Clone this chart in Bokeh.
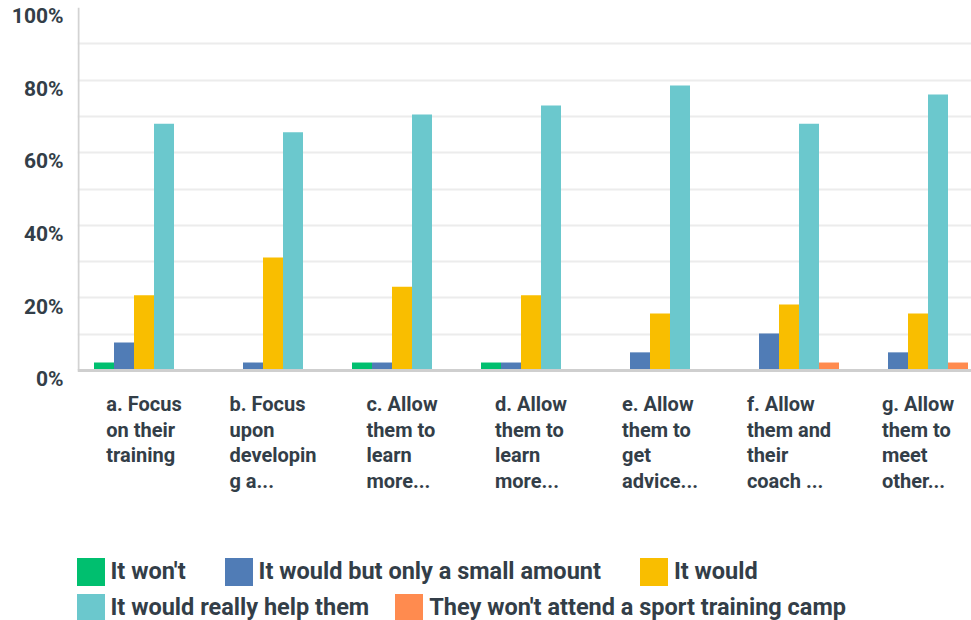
from bokeh.plotting import figure
from bokeh.models import (Range1d, FixedTicker, PrintfTickFormatter, Legend,
                          LegendItem, Label, ColumnDataSource, Span)
from bokeh.embed import file_html
from bokeh.resources import INLINE

# ---- data (percent of respondents) ----
categories = [
    "a. Focus\non their\ntraining",
    "b. Focus\nupon\ndevelopin\ng a...",
    "c. Allow\nthem to\nlearn\nmore...",
    "d. Allow\nthem to\nlearn\nmore...",
    "e. Allow\nthem to\nget\nadvice...",
    "f. Allow\nthem and\ntheir\ncoach ...",
    "g. Allow\nthem to\nmeet\nother...",
]
series_names = [
    "It won't",
    "It would but only a small amount",
    "It would",
    "It would really help them",
    "They won't attend a sport training camp",
]
colors = ["#00bf6f", "#507cb6", "#f9be00", "#6bc8cd", "#ff8b4f"]
wont = [2.2, 0, 2.2, 2.2, 0, 0, 0]
small_amount = [7.7, 2.2, 2.2, 2.2, 5.0, 10.2, 5.0]
would = [20.7, 31.1, 23.1, 20.7, 15.7, 18.2, 15.7]
really_help = [68.0, 65.6, 70.5, 73.0, 78.5, 68.0, 76.0]
wont_attend = [0, 0, 0, 0, 0, 2.2, 2.2]
y_ticks = [0, 20, 40, 60, 80, 100]
grid_ticks = [10, 20, 30, 40, 50, 60, 70, 80, 90]

series = [wont, small_amount, would, really_help, wont_attend]

FONT = "Roboto"
TXT = "#333e48"

# ---- layout (pixels) ----
W, H = 971, 620
FRAME_L, FRAME_T = 77, 7
ZERO_Y = 370                  # pixel row of 0 %
PX_PER_PCT = (ZERO_Y - FRAME_T) / 100.0
CAT_PX = 129.0
X0_PX = 79                    # pixel column of x = 0
bw = 20.0 / CAT_PX
y_start = -(H - ZERO_Y) / PX_PER_PCT
x_start = -(X0_PX - FRAME_L) / CAT_PX
x_end = x_start + (W - FRAME_L) / CAT_PX
LABEL_SHIFT = 2.4             # tick labels sit a little below their gridline

p = figure(width=W, height=H, output_backend="svg", toolbar_location=None,
           x_range=Range1d(x_start, x_end), y_range=Range1d(y_start, 100),
           min_border_left=FRAME_L, min_border_right=0, min_border_top=FRAME_T,
           min_border_bottom=0)
p.outline_line_color = None
p.background_fill_color = "white"
p.border_fill_color = "white"
p.extra_y_ranges = {"lab": Range1d(y_start + LABEL_SHIFT, 100 + LABEL_SHIFT)}

xs = [i + 0.5 for i in range(len(categories))]
renderers = []
for k, (vals, col) in enumerate(zip(series, colors)):
    src = ColumnDataSource(dict(x=[x + (k - 2) * bw for x in xs], top=vals))
    r = p.vbar(x="x", top="top", bottom=0, width=bw, source=src,
               fill_color=col, line_color=None)
    renderers.append(r)

# grid
p.xgrid.visible = False
p.ygrid.ticker = FixedTicker(ticks=grid_ticks)
p.ygrid.grid_line_color = "#ececec"
p.ygrid.grid_line_width = 2

# axis lines
p.add_layout(Span(location=0, dimension="width", line_color="#cfcfcf",
                  line_width=3))
p.segment(x0=[x_start + 1 / CAT_PX], y0=[y_ticks[0]],
          x1=[x_start + 1 / CAT_PX], y1=[y_ticks[-1]],
          line_color="#d3d3d3", line_width=2)

# y axis (labels only)
p.xaxis.visible = False
ya = p.yaxis[0]
ya.y_range_name = "lab"
ya.ticker = FixedTicker(ticks=y_ticks)
ya.formatter = PrintfTickFormatter(format="%d%%")
ya.major_tick_line_color = None
ya.minor_tick_line_color = None
ya.major_tick_out = 0
ya.major_tick_in = 0
ya.minor_tick_out = 0
ya.axis_line_color = None
ya.major_label_text_font = FONT
ya.major_label_text_font_size = "21px"
ya.major_label_text_font_style = "bold"
ya.major_label_text_color = TXT
ya.major_label_standoff = 14

# category labels
for x, c in zip(xs, categories):
    p.add_layout(Label(x=x, y=-6.0, x_units="data", y_units="data", text=c,
                       anchor="top_center", text_align="left",
                       text_font=FONT, text_font_size="20px",
                       text_font_style="bold", text_color=TXT,
                       text_line_height=1.06))

# legends (two rows)
def make_legend(idx, loc, spacing):
    items = [LegendItem(label=series_names[i], renderers=[renderers[i]]) for i in idx]
    lg = Legend(items=items, orientation="horizontal", location=loc,
                glyph_width=35, glyph_height=35, label_standoff=3,
                spacing=spacing, padding=0, margin=0, border_line_color=None,
                background_fill_alpha=0, label_text_font=FONT,
                label_text_font_size="23.5px", label_text_font_style="bold",
                label_text_color=TXT)
    p.add_layout(lg)

make_legend([0, 1, 2], (-4.5, 31.5), 35)
make_legend([3, 4], (-4.5, -4.5), 22)

open("out.html", "w").write(file_html(p, INLINE))
